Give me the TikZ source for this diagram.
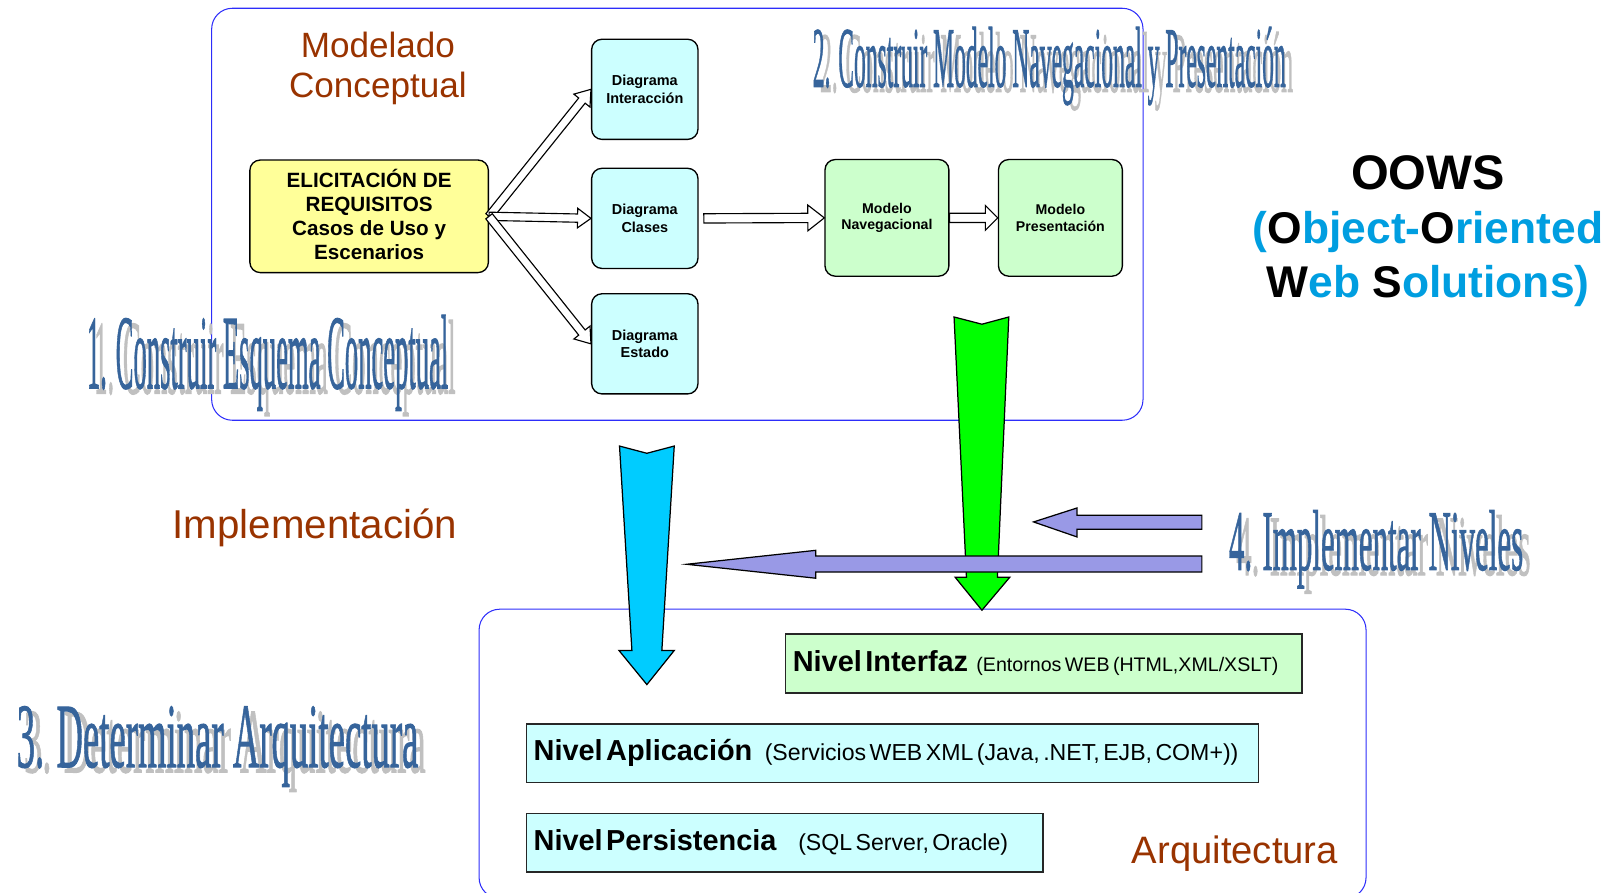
\documentclass[tikz,border=0pt]{standalone}
\usepackage{graphicx}
\usepackage{fontspec}
\setmainfont{Liberation Sans}
\newfontfamily\wafont[FakeBold=1.2]{Liberation Serif}
\usetikzlibrary{calc}

\definecolor{boxblue}{RGB}{45,45,250}
\definecolor{cyanfill}{RGB}{204,255,255}
\definecolor{greenfill}{RGB}{204,255,204}
\definecolor{yellowfill}{RGB}{255,255,153}
\definecolor{brownt}{RGB}{153,51,0}
\definecolor{waBlue}{RGB}{54,100,155}
\definecolor{waGray}{RGB}{192,192,192}
\definecolor{oowsBlue}{RGB}{0,158,224}
\definecolor{arrCyan}{RGB}{0,204,255}
\definecolor{arrGreen}{RGB}{0,255,0}
\definecolor{arrPurple}{RGB}{153,153,230}

\newcommand\fs[2]{\fontsize{#1}{#2}\selectfont}

% hollow block arrow: from, to, shaft half width, head half width, head length
\newcommand\hollowarrow[5]{%
  \draw[flowarrow] let \p1=($(#2)-(#1)$), \n1={atan2(\y1,\x1)}, \n2={veclen(\x1,\y1)} in
   ($(#1)+(\n1+90:#3pt)$) --
   ($(#1)+(\n1:\n2-#5pt)+(\n1+90:#3pt)$) --
   ($(#1)+(\n1:\n2-#5pt)+(\n1+90:#4pt)$) --
   (#2) --
   ($(#1)+(\n1:\n2-#5pt)+(\n1-90:#4pt)$) --
   ($(#1)+(\n1:\n2-#5pt)+(\n1-90:#3pt)$) --
   ($(#1)+(\n1-90:#3pt)$) -- cycle;}

% WordArt-like title with shadow: name, x, y (baseline), width, height, text
\newcommand\wordart[6]{%
  \node[anchor=base west, inner sep=0, text=waGray] (#1s) at (#2+7,#3+5) {\resizebox{#4pt}{#5pt}{\wafont\fs{60}{60}#6}};
  \node[anchor=base west, inner sep=0, text=waBlue] (#1) at (#2,#3) {\resizebox{#4pt}{#5pt}{\wafont\fs{60}{60}#6}};}

\tikzset{
  region/.style={draw=boxblue, line width=1pt, rounded corners=20pt},
  elibox/.style={draw=black, line width=1.3pt, fill=yellowfill, rounded corners=10pt,
    minimum width=231pt, minimum height=109pt, inner sep=0pt, align=center,
    font=\bfseries\fs{20}{23}},
  diagbox/.style={draw=black, line width=1.3pt, fill=cyanfill, rounded corners=10pt,
    minimum width=103pt, minimum height=97pt, inner sep=0pt, align=center,
    font=\bfseries\fs{14}{17}},
  modbox/.style={draw=black, line width=1.3pt, fill=greenfill, rounded corners=10pt,
    minimum width=120pt, minimum height=113pt, inner sep=0pt, align=center,
    font=\bfseries\fs{13.7}{16}},
  lvlbox/.style={draw=black!85, line width=1.7pt, anchor=north west, inner xsep=7pt,
    inner ysep=0pt, minimum height=57pt, align=left},
  flowarrow/.style={draw=black, fill=white, line width=1.1pt, line join=miter},
  bigarrow/.style={draw=black, line width=1.2pt, line join=miter},
  brownlabel/.style={text=brownt, align=center, inner sep=0pt},
}

\begin{document}
\begin{tikzpicture}[x=1pt,y=-1pt]
\useasboundingbox (0,0) rectangle (1568,864);

% regions
\draw[region] (205,8) rectangle (1107,407);
\draw[region] (464,590) rectangle (1323,870);

% WordArt titles
\wordart{t1}{84}{376}{350}{71}{1. Construir Esquema Conceptual}
\wordart{t2}{787}{84}{458}{58}{2. Construir Modelo Navegacional y Presentación}
\wordart{t3}{16}{743}{389}{59}{3. Determinar Arquitectura}
\wordart{t4}{1190}{552}{285}{58}{4. Implementar Niveles}

% brown labels
\node[brownlabel, font=\fs{34}{39}] (modcon) at (366,66) {Modelado\\Conceptual};
\node[brownlabel, font=\fs{39}{40}] (impl) at (305,511) {Implementación};
\node[brownlabel, font=\fs{37}{40}] (arq) at (1196,827) {Arquitectura};

% OOWS
\node[align=center, inner sep=0pt, font=\bfseries\fs{43}{52}] (oows) at (1383,224)
  {{\fs{47}{52}OOWS}\\\textcolor{oowsBlue}{(}O\textcolor{oowsBlue}{bject-}O\textcolor{oowsBlue}{riented}\\W\textcolor{oowsBlue}{eb }S\textcolor{oowsBlue}{olutions)}};

% conceptual modelling nodes
\node[elibox] (eli) at (357.5,209.5) {ELICITACIÓN DE\\REQUISITOS\\Casos de Uso y\\Escenarios\rule[-4pt]{0pt}{4pt}};
\node[diagbox] (dint) at (624.5,86.5) {Diagrama\\Interacción};
\node[diagbox] (dcla) at (624.5,211.5) {Diagrama\\Clases};
\node[diagbox] (dest) at (624.5,333) {Diagrama\\Estado};
\node[modbox] (nav) at (859,211) {Modelo\\Navegacional};
\node[modbox] (pres) at (1027,211) {Modelo\\Presentación};

\coordinate (clsout) at ([xshift=5pt]dcla.east);
\hollowarrow{eli.east}{dint.west}{4}{10}{14}
\hollowarrow{eli.east}{dcla.west}{4}{9.5}{13}
\hollowarrow{eli.east}{dest.west}{4}{10}{14}
\hollowarrow{clsout}{nav.west}{4.5}{12.5}{16}
\hollowarrow{nav.east}{pres.west}{4.5}{12}{12}

% architecture levels
\node[lvlbox, fill=greenfill, text width=486pt] (nint) at (760,613)
  {{\bfseries\fs{28}{30}Nivel Interfaz}\hspace{8pt}{\fs{19}{20}(Entornos WEB (HTML,XML/XSLT)}};
\node[lvlbox, fill=cyanfill, text width=695pt] (napl) at (509,700)
  {{\bfseries\fs{28}{30}Nivel Aplicación}\hspace{12pt}{\fs{22.4}{24}(Servicios WEB XML (Java, .NET, EJB, COM+))}};
\node[lvlbox, fill=cyanfill, text width=486pt] (nper) at (509,787)
  {{\bfseries\fs{28}{30}Nivel Persistencia}\hspace{21pt}{\fs{22.4}{24}(SQL Server, Oracle)}};

% big cyan arrow
\draw[bigarrow, fill=arrCyan] (600,432) -- (626.5,439) -- (653,432) -- (641,630) -- (653,630)
  -- (626.5,663) -- (599.5,630) -- (612,630) -- cycle;
% big green arrow
\draw[bigarrow, fill=arrGreen] (924,307) -- (951,314) -- (977,307) -- (966,559) -- (978,559)
  -- (951,591) -- (925,559) -- (936,559) -- cycle;
% purple arrows
\draw[bigarrow, fill=arrPurple] (1164,499) -- (1043,499) -- (1043,492) -- (1001,505.5)
  -- (1043,520) -- (1043,512.5) -- (1164,512.5) -- cycle;
\draw[bigarrow, fill=arrPurple] (1164,538.5) -- (790,538.5) -- (790,533) -- (665,546.5)
  -- (790,560) -- (790,554) -- (1164,554) -- cycle;
\end{tikzpicture}
\end{document}
